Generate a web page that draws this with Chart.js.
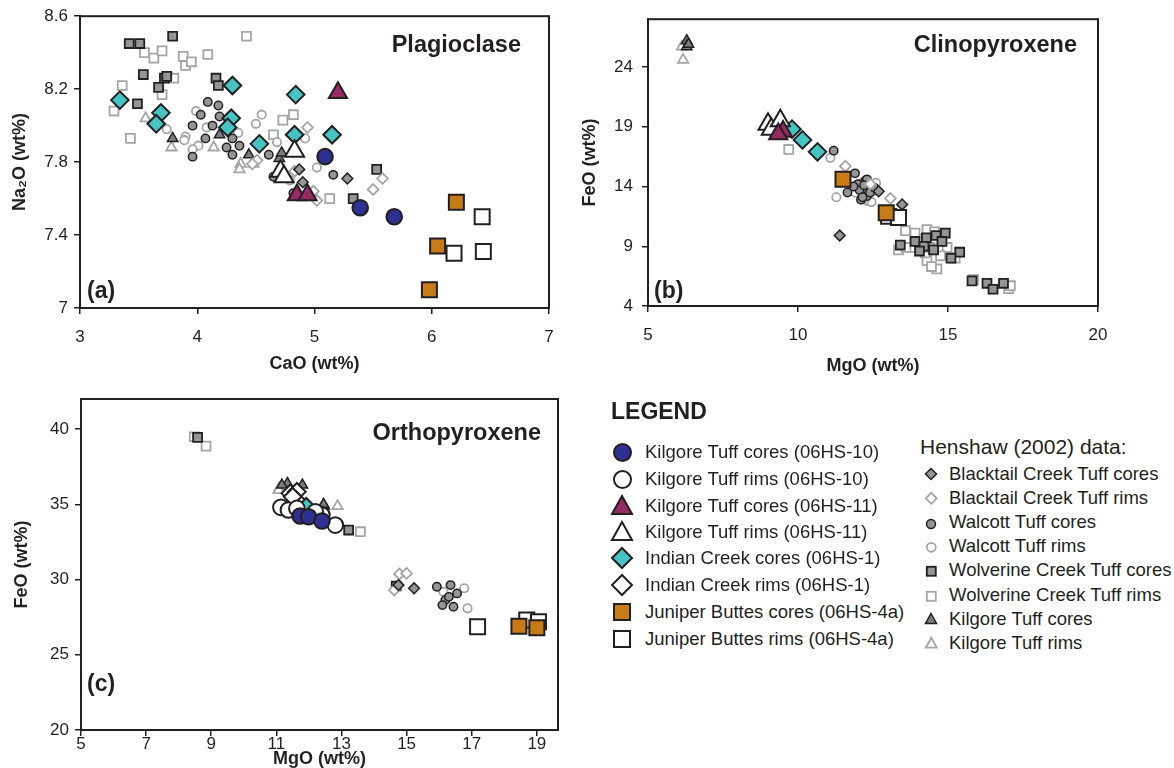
<!DOCTYPE html>
<html>
<head>
<meta charset="utf-8">
<title>Plagioclase, clinopyroxene and orthopyroxene compositions</title>
<script src="https://cdn.jsdelivr.net/npm/chart.js@4.4.1/dist/chart.umd.min.js"></script>
<style>
    html, body { margin: 0; padding: 0; background: #fff; }
    #page {
        position: relative; width: 1174px; height: 768px; overflow: hidden;
        font-family: 'Liberation Sans', Arial, Helvetica, sans-serif; color: #231f20;
    }
    #page canvas { position: absolute; }
    .lbl { position: absolute; white-space: nowrap; line-height: 1; transform: translateY(-50%); }
    .ptitle { font-weight: bold; font-size: 23.5px; }
    .plabel { font-weight: bold; font-size: 23px; }
    .legtitle { font-weight: bold; font-size: 23px; }
    .legtext { font-size: 18.5px; }
    .henshaw { font-size: 21px; }
    .mk { position: absolute; display: block; }
</style>
</head>
<body>
<div id="page">
    <canvas id="plagChart" width="580" height="385" style="left:0;top:0"></canvas>
    <canvas id="cpxChart" width="600" height="385" style="left:570px;top:0"></canvas>
    <canvas id="opxChart" width="580" height="388" style="left:0;top:380px"></canvas>
</div>
<script>
/* ==========================================================================
   Mineral chemistry - three scatter panels + shared legend
   ========================================================================== */

const INK = '#231f20';
const NAVY = '#2e3192';
const MAROON = '#962a64';
const TEAL = '#46c3c3';
const ORANGE = '#c77b16';
const GREY_FILL = '#959597';
const GREY_LINE = '#a3a5a8';
const KT_FILL = '#7d7d7f';

Chart.defaults.font.family = "'Liberation Sans', Arial, Helvetica, sans-serif";
Chart.defaults.color = INK;

// ── TICKS ────────────────────────────────────────────────────────
const PLAG_X_TICKS = [3, 4, 5, 6, 7];
const PLAG_Y_TICKS = [7, 7.4, 7.8, 8.2, 8.6];
const CPX_X_TICKS = [5, 10, 15, 20];
const CPX_Y_TICKS = [4, 9, 14, 19, 24];
const OPX_X_TICKS = [5, 7, 9, 11, 13, 15, 17, 19];
const OPX_Y_TICKS = [20, 25, 30, 35, 40];

// ── LEGEND LABELS ────────────────────────────────────────────────
const STUDY_LABELS = [
    'Kilgore Tuff cores (06HS-10)', 'Kilgore Tuff rims (06HS-10)',
    'Kilgore Tuff cores (06HS-11)', 'Kilgore Tuff rims (06HS-11)',
    'Indian Creek cores (06HS-1)', 'Indian Creek rims (06HS-1)',
    'Juniper Buttes cores (06HS-4a)', 'Juniper Buttes rims (06HS-4a)'
];
const HENSHAW_LABELS = [
    'Blacktail Creek Tuff cores', 'Blacktail Creek Tuff rims',
    'Walcott Tuff cores', 'Walcott Tuff rims',
    'Wolverine Creek Tuff cores', 'Wolverine Creek Tuff rims',
    'Kilgore Tuff cores', 'Kilgore Tuff rims'
];

// ── PLAGIOCLASE: [CaO, Na2O] ─────────────────────────────────────
const PLAG_K10_CORES = [[5.09, 7.83], [5.39, 7.55], [5.68, 7.50]];
const PLAG_K10_RIMS = [];
const PLAG_K11_CORES = [[5.20, 8.18], [4.85, 7.62], [4.94, 7.62]];
const PLAG_K11_RIMS = [[4.83, 7.86], [4.71, 7.75], [4.74, 7.72]];
const PLAG_IC_CORES = [[3.34, 8.14], [3.69, 8.07], [3.65, 8.01], [4.30, 8.22], [4.29, 8.04],
    [4.26, 7.99], [4.84, 8.17], [4.83, 7.95], [4.53, 7.90], [5.15, 7.95]];
const PLAG_IC_RIMS = [];
const PLAG_JB_CORES = [[6.21, 7.58], [6.05, 7.34], [5.98, 7.10]];
const PLAG_JB_RIMS = [[6.43, 7.50], [6.19, 7.30], [6.44, 7.31]];
const PLAG_BC_CORES = [[5.28, 7.71], [4.90, 7.69], [4.87, 7.76]];
const PLAG_BC_RIMS = [[5.58, 7.71], [5.50, 7.65], [4.94, 7.99], [5.02, 7.59], [4.99, 7.64],
    [4.51, 7.81], [4.47, 7.79], [4.83, 7.75]];
const PLAG_WA_CORES = [[4.09, 8.13], [3.96, 8.00], [4.03, 8.06], [4.13, 8.00], [3.96, 7.83],
    [4.19, 8.05], [4.25, 7.88], [4.36, 7.89], [4.30, 7.84], [4.07, 7.93], [4.61, 7.84],
    [5.16, 7.73], [4.65, 7.72], [4.82, 7.63], [4.30, 7.93], [4.18, 8.11]];
const PLAG_WA_RIMS = [[3.99, 8.08], [4.08, 7.99], [3.90, 7.94], [3.74, 7.98], [4.01, 7.89],
    [3.96, 7.87], [4.35, 7.96], [4.50, 8.01], [4.55, 8.06], [4.68, 7.91], [5.02, 7.77],
    [4.79, 7.70], [4.92, 7.93], [3.89, 7.92]];
const PLAG_WC_CORES = [[3.42, 8.45], [3.51, 8.45], [3.79, 8.49], [3.54, 8.28], [3.72, 8.26],
    [3.74, 8.27], [3.67, 8.21], [3.49, 8.12], [4.16, 8.26], [4.18, 8.22], [5.53, 7.76], [5.33, 7.60]];
const PLAG_WC_RIMS = [[4.42, 8.49], [3.55, 8.40], [3.63, 8.37], [3.70, 8.41], [3.88, 8.38],
    [3.90, 8.33], [3.95, 8.35], [4.09, 8.39], [3.36, 8.22], [3.80, 8.26], [3.70, 8.17],
    [3.29, 8.08], [3.43, 7.93], [4.73, 8.03], [4.82, 8.06], [4.65, 7.95], [5.13, 7.60]];
const PLAG_KT_CORES = [[3.79, 7.93], [4.19, 7.95], [4.44, 7.84], [4.70, 7.82], [4.72, 7.85]];
const PLAG_KT_RIMS = [[3.56, 8.04], [3.78, 7.88], [4.14, 7.88], [4.37, 7.79], [4.36, 7.76], [4.48, 7.79]];

// ── CLINOPYROXENE: [MgO, FeO] ────────────────────────────────────
const CPX_K10_CORES = [];
const CPX_K10_RIMS = [];
const CPX_K11_CORES = [[9.50, 18.6], [9.34, 18.4]];
const CPX_K11_RIMS = [[9.00, 19.2], [9.11, 18.8], [9.41, 19.5]];
const CPX_IC_CORES = [[9.80, 18.8], [10.15, 17.9], [10.65, 16.9]];
const CPX_IC_RIMS = [];
const CPX_JB_CORES = [[11.50, 14.6], [12.94, 11.8]];
const CPX_JB_RIMS = [[13.02, 11.5], [13.35, 11.4]];
const CPX_BC_CORES = [[12.69, 13.6], [13.47, 12.5], [11.39, 9.9]];
const CPX_BC_RIMS = [[11.58, 15.7], [12.41, 14.2], [13.08, 13.0]];
const CPX_WA_CORES = [[11.19, 17.0], [11.90, 15.1], [11.65, 13.5], [12.00, 14.2], [12.20, 13.8],
    [12.30, 13.2], [12.10, 12.9], [12.40, 14.0], [12.25, 14.5], [12.05, 13.7], [12.30, 14.6],
    [12.15, 13.1], [12.40, 13.5], [12.55, 13.9], [11.85, 14.0], [12.20, 14.1]];
const CPX_WA_RIMS = [[11.08, 16.4], [11.28, 13.1], [12.05, 13.4], [12.30, 12.8], [12.50, 13.6],
    [12.15, 14.3], [11.95, 13.9], [12.35, 13.3], [12.45, 12.7], [12.60, 14.3], [12.25, 13.0], [11.90, 13.5]];
const CPX_WC_CORES = [[14.91, 10.1], [13.41, 9.1], [15.39, 8.5], [15.10, 8.0], [14.28, 9.7],
    [15.80, 6.1], [16.30, 5.9], [16.50, 5.4], [16.85, 5.9], [14.52, 8.7], [13.90, 9.4], [14.20, 9.0],
    [14.60, 9.9], [14.05, 8.6], [14.80, 9.4]];
const CPX_WC_RIMS = [[9.69, 17.1], [13.58, 10.3], [15.85, 6.2], [14.30, 10.4], [13.85, 8.9],
    [13.35, 8.7], [14.63, 7.1], [14.30, 7.8], [14.24, 8.45], [14.97, 8.9], [15.24, 8.0],
    [17.02, 5.45], [17.08, 5.7], [14.10, 9.6], [14.50, 9.3], [14.45, 7.3], [13.60, 8.9],
    [14.40, 8.9], [13.90, 10.1], [14.75, 8.2], [14.55, 10.2]];
const CPX_KT_CORES = [[6.29, 26.2], [6.29, 25.7], [6.35, 25.9], [9.34, 19.5]];
const CPX_KT_RIMS = [[6.17, 24.6], [6.13, 25.7]];

// ── ORTHOPYROXENE: [MgO, FeO] ────────────────────────────────────
const OPX_K10_CORES = [[11.73, 34.22], [11.99, 34.17], [12.40, 33.89]];
const OPX_K10_RIMS = [[11.14, 34.80], [11.37, 34.62], [11.63, 34.73], [12.40, 34.29], [12.81, 33.62], [12.20, 34.50]];
const OPX_K11_CORES = [];
const OPX_K11_RIMS = [];
const OPX_IC_CORES = [[11.92, 34.84]];
const OPX_IC_RIMS = [[11.43, 35.73], [11.63, 35.83], [11.61, 35.28], [11.50, 35.50]];
const OPX_JB_CORES = [[18.45, 26.90], [19.00, 26.80]];
const OPX_JB_RIMS = [[17.18, 26.86], [18.69, 27.31], [19.05, 27.20]];
const OPX_BC_CORES = [[15.23, 29.42], [14.75, 29.63]];
const OPX_BC_RIMS = [[14.78, 30.37], [15.00, 30.41], [14.62, 29.30]];
const OPX_WA_CORES = [[15.93, 29.52], [16.35, 29.63], [16.19, 28.64], [16.44, 28.19],
    [16.55, 29.08], [16.30, 28.85], [16.10, 28.30]];
const OPX_WA_RIMS = [[16.77, 29.42], [16.87, 28.09], [16.13, 29.19]];
const OPX_WC_CORES = [[8.58, 39.45], [13.22, 33.29], [14.68, 29.57]];
const OPX_WC_RIMS = [[8.48, 39.49], [8.84, 38.87], [13.58, 33.18]];
const OPX_KT_CORES = [[11.34, 36.39], [11.80, 36.28], [12.47, 34.88], [11.17, 36.28], [12.45, 35.00]];
const OPX_KT_RIMS = [[11.09, 36.06], [11.07, 35.95], [12.88, 34.88]];

// ── MARKER STYLES (same order as the legends) ───────────────────
const STUDY_STYLES = [
    { shape: 'circle', r: 7.8, fill: NAVY, line: INK, w: 2 },
    { shape: 'circle', r: 7.8, fill: '#fff', line: INK, w: 2 },
    { shape: 'triangle', r: 10.5, fill: MAROON, line: INK, w: 2 },
    { shape: 'triangle', r: 11, fill: '#fff', line: INK, w: 2 },
    { shape: 'rectRot', r: 8.8, fill: TEAL, line: INK, w: 2 },
    { shape: 'rectRot', r: 8.8, fill: '#fff', line: INK, w: 2 },
    { shape: 'rect', r: 10.6, fill: ORANGE, line: INK, w: 2 },
    { shape: 'rect', r: 10.6, fill: '#fff', line: INK, w: 2 }
];
const HENSHAW_STYLES = [
    { shape: 'rectRot', r: 5.4, fill: GREY_FILL, line: INK, w: 1.5 },
    { shape: 'rectRot', r: 5.4, fill: '#fff', line: GREY_LINE, w: 1.8 },
    { shape: 'circle', r: 4.2, fill: GREY_FILL, line: INK, w: 1.5 },
    { shape: 'circle', r: 4.2, fill: '#fff', line: GREY_LINE, w: 1.8 },
    { shape: 'rect', r: 6.3, fill: GREY_FILL, line: INK, w: 1.8 },
    { shape: 'rect', r: 6.3, fill: '#fff', line: GREY_LINE, w: 1.8 },
    { shape: 'triangle', r: 6, fill: KT_FILL, line: INK, w: 1.5 },
    { shape: 'triangle', r: 6, fill: '#fff', line: GREY_LINE, w: 1.8 }
];

function series(points, st) {
    return {
        data: points.map(([x, y]) => ({ x, y })),
        pointStyle: st.shape,
        pointRadius: st.r,
        pointHoverRadius: st.r,
        backgroundColor: st.fill,
        borderColor: st.line,
        borderWidth: st.w,
        showLine: false,
        clip: false
    };
}

// study data first so it is painted on top of the Henshaw points
function panelSets(study, henshaw) {
    return [
        ...study.map((pts, i) => series(pts, STUDY_STYLES[i])),
        ...henshaw.map((pts, i) => series(pts, HENSHAW_STYLES[i]))
    ];
}

function axis(o, horizontal) {
    return {
        type: 'linear',
        min: o.min,
        max: o.max,
        afterBuildTicks: s => { s.ticks = o.ticks.map(v => ({ value: v })); },
        afterFit: s => { if (horizontal) s.height = o.size; else s.width = o.size; },
        grid: { drawOnChartArea: false, drawTicks: true, tickLength: 6, color: INK, lineWidth: 1.5 },
        border: { display: true, color: INK, width: 2 },
        ticks: {
            color: INK, font: { size: 17 }, padding: o.tickPad,
            autoSkip: false, maxRotation: 0,
            callback: v => String(+Number(v).toFixed(1))
        },
        title: {
            display: true, text: o.title, color: INK,
            font: { size: 18, weight: 'bold' },
            padding: horizontal ? { top: 0, bottom: o.titlePad } : { top: o.titlePad, bottom: 0 }
        }
    };
}

const frame = {
    id: 'frame',
    beforeDatasetsDraw(chart) {
        const { ctx, chartArea: a } = chart;
        ctx.save();
        ctx.strokeStyle = INK;
        ctx.lineWidth = 2;
        ctx.strokeRect(a.left, a.top, a.right - a.left, a.bottom - a.top);
        ctx.restore();
    }
};

function buildChart(id, datasets, pad, x, y) {
    return new Chart(document.getElementById(id), {
        type: 'scatter',
        data: { datasets },
        options: {
            responsive: false,
            animation: false,
            events: [],
            layout: { padding: pad },
            plugins: { legend: { display: false }, tooltip: { enabled: false } },
            scales: { x: axis(x, true), y: axis(y, false) }
        },
        plugins: [frame]
    });
}

// ── (a) PLAGIOCLASE ──────────────────────────────────────────────
buildChart('plagChart',
    panelSets(
        [PLAG_K10_CORES, PLAG_K10_RIMS, PLAG_K11_CORES, PLAG_K11_RIMS,
         PLAG_IC_CORES, PLAG_IC_RIMS, PLAG_JB_CORES, PLAG_JB_RIMS],
        [PLAG_BC_CORES, PLAG_BC_RIMS, PLAG_WA_CORES, PLAG_WA_RIMS,
         PLAG_WC_CORES, PLAG_WC_RIMS, PLAG_KT_CORES, PLAG_KT_RIMS]),
    { left: 0, right: 31, top: 14, bottom: 0 },
    { min: 3, max: 7, ticks: PLAG_X_TICKS, size: 77, tickPad: 13, title: 'CaO (wt%)', titlePad: 10 },
    { min: 7, max: 8.6, ticks: PLAG_Y_TICKS, size: 80, tickPad: 6, title: 'Na\u2082O (wt%)', titlePad: 9 });

// ── (b) CLINOPYROXENE ────────────────────────────────────────────
buildChart('cpxChart',
    panelSets(
        [CPX_K10_CORES, CPX_K10_RIMS, CPX_K11_CORES, CPX_K11_RIMS,
         CPX_IC_CORES, CPX_IC_RIMS, CPX_JB_CORES, CPX_JB_RIMS],
        [CPX_BC_CORES, CPX_BC_RIMS, CPX_WA_CORES, CPX_WA_RIMS,
         CPX_WC_CORES, CPX_WC_RIMS, CPX_KT_CORES, CPX_KT_RIMS]),
    { left: 0, right: 72, top: 13, bottom: 0 },
    { min: 5, max: 20, ticks: CPX_X_TICKS, size: 79, tickPad: 13, title: 'MgO (wt%)', titlePad: 8 },
    { min: 4, max: 28, ticks: CPX_Y_TICKS, size: 78, tickPad: 9, title: 'FeO (wt%)', titlePad: 9 });

// ── (c) ORTHOPYROXENE ────────────────────────────────────────────
buildChart('opxChart',
    panelSets(
        [OPX_K10_CORES, OPX_K10_RIMS, OPX_K11_CORES, OPX_K11_RIMS,
         OPX_IC_CORES, OPX_IC_RIMS, OPX_JB_CORES, OPX_JB_RIMS],
        [OPX_BC_CORES, OPX_BC_RIMS, OPX_WA_CORES, OPX_WA_RIMS,
         OPX_WC_CORES, OPX_WC_RIMS, OPX_KT_CORES, OPX_KT_RIMS]),
    { left: 0, right: 22, top: 19, bottom: 0 },
    { min: 5, max: 19.65, ticks: OPX_X_TICKS, size: 38, tickPad: -2, title: 'MgO (wt%)', titlePad: -2 },
    { min: 20, max: 42, ticks: OPX_Y_TICKS, size: 81, tickPad: 6, title: 'FeO (wt%)', titlePad: 11 });

// ── TEXT + LEGEND ────────────────────────────────────────────────
const page = document.getElementById('page');

function addText(text, x, y, cls, alignRight) {
    const d = document.createElement('div');
    d.className = 'lbl ' + cls;
    d.textContent = text;
    d.style.top = y + 'px';
    if (alignRight) d.style.right = (1174 - x) + 'px';
    else d.style.left = x + 'px';
    page.appendChild(d);
}

function markerSvg(st, size) {
    const w = st.w, b = size + w * 2, c = b / 2, lo = w, hi = b - w;
    let shape;
    if (st.shape === 'circle') shape = `<circle cx="${c}" cy="${c}" r="${size / 2}"/>`;
    else if (st.shape === 'rect') shape = `<rect x="${lo}" y="${lo}" width="${size}" height="${size}"/>`;
    else if (st.shape === 'rectRot') shape = `<polygon points="${c},${lo} ${hi},${c} ${c},${hi} ${lo},${c}"/>`;
    else shape = `<polygon points="${c},${lo} ${hi},${hi - size * 0.1} ${lo},${hi - size * 0.1}"/>`;
    return { b, html: `<svg width="${b}" height="${b}" viewBox="0 0 ${b} ${b}"><g fill="${st.fill}" stroke="${st.line}" stroke-width="${w}">${shape}</g></svg>` };
}

function addMarker(st, size, cx, cy) {
    const m = markerSvg(st, size);
    const d = document.createElement('div');
    d.className = 'mk';
    d.style.left = (cx - m.b / 2) + 'px';
    d.style.top = (cy - m.b / 2) + 'px';
    d.innerHTML = m.html;
    page.appendChild(d);
}

addText('Plagioclase', 521, 45, 'ptitle', true);
addText('Clinopyroxene', 1077, 45, 'ptitle', true);
addText('Orthopyroxene', 541, 433, 'ptitle', true);
addText('(a)', 87, 290, 'plabel');
addText('(b)', 654, 290, 'plabel');
addText('(c)', 87, 683, 'plabel');

addText('LEGEND', 611, 411, 'legtitle');
const STUDY_ROWS = [452, 479, 506, 532, 558, 585, 612, 639];
const STUDY_SIZES = { circle: 17, triangle: 20, rectRot: 20, rect: 16 };
STUDY_LABELS.forEach((label, i) => {
    const st = STUDY_STYLES[i];
    addMarker(st, STUDY_SIZES[st.shape], 622, STUDY_ROWS[i]);
    addText(label, 645, STUDY_ROWS[i], 'legtext');
});

addText('Henshaw (2002) data:', 920, 446, 'henshaw');
const HENSHAW_ROWS = [474, 498, 522, 546, 570, 595, 619, 643];
const HENSHAW_SIZES = { circle: 9, triangle: 11, rectRot: 11, rect: 9 };
HENSHAW_LABELS.forEach((label, i) => {
    const st = HENSHAW_STYLES[i];
    addMarker(st, HENSHAW_SIZES[st.shape], 931, HENSHAW_ROWS[i]);
    addText(label, 949, HENSHAW_ROWS[i], 'legtext');
});
</script>
</body>
</html>
